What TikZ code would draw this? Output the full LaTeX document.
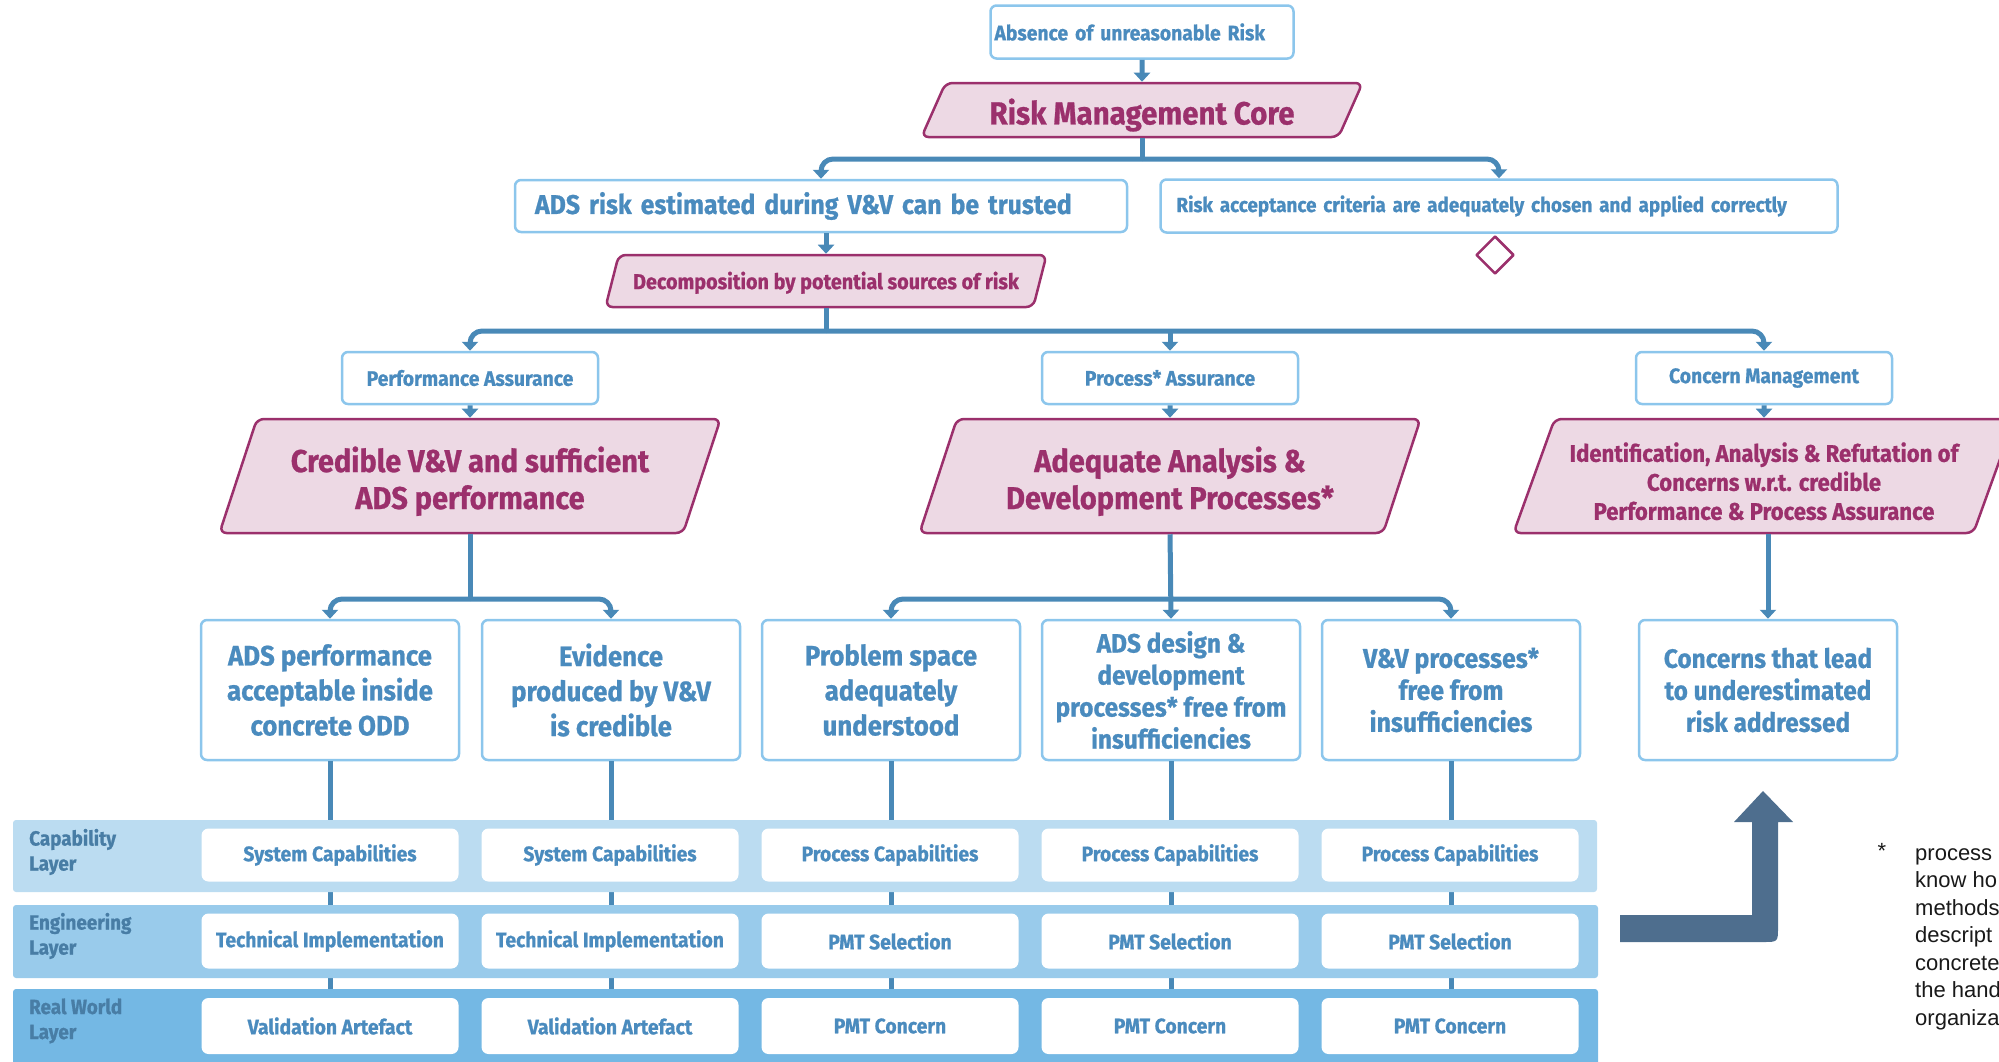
\documentclass[tikz,border=0pt]{standalone}
\usepackage{fontspec}
\setmainfont{Fira Sans}[FakeStretch=0.92, BoldFeatures={FakeBold=0.8}]
\newfontfamily\notefont{Liberation Sans}
\usetikzlibrary{shapes.geometric,arrows.meta}
\definecolor{tblue}{RGB}{74,139,190}
\definecolor{lblue}{RGB}{140,198,236}
\definecolor{cblue}{RGB}{73,137,183}
\definecolor{mag}{RGB}{155,48,108}
\definecolor{magfill}{RGB}{237,217,228}
\definecolor{bandA}{RGB}{187,220,241}
\definecolor{bandB}{RGB}{153,203,235}
\definecolor{bandC}{RGB}{116,184,228}
\definecolor{labtext}{RGB}{72,125,165}
\definecolor{bigarr}{RGB}{78,110,142}
\newcommand\fsz[2]{\fontsize{#1bp}{#2bp}\selectfont\bfseries}
\newcommand\lift[1]{\rule{0pt}{#1bp}}
\begin{document}
\begin{tikzpicture}[x=1bp, y={(0bp,-1bp)}, line join=round,
	goal/.style={draw=lblue, line width=2.5bp, rounded corners=6bp, fill=white, text=tblue, align=center, inner sep=2bp},
	claim/.style={trapezium, trapezium left angle=66, trapezium right angle=114, trapezium stretches body,
		draw=mag, fill=magfill, text=mag, line width=2.5bp, rounded corners=7bp, align=center, inner sep=2bp},
	layerbox/.style={fill=white, rounded corners=7bp, text=tblue, minimum width=257bp, minimum height=53bp, font=\fsz{21}{25}},
	layerlab/.style={anchor=west, align=left, text=labtext, font=\fsz{20.5}{25}, inner sep=0pt},
	link/.style={draw=cblue, line width=5bp},
	arr/.style={link, -{Triangle[width=16bp,length=9bp]}},
	bar/.style={arr, rounded corners=12bp}]
	\useasboundingbox (0,0) rectangle (1999,1061);
	% top of the argument
	\node[goal, minimum height=53bp, inner xsep=4bp, text width=295bp, align=left, font=\fsz{21}{25}] (absence) at (1142,32) {Absence of unreasonable Risk};
	\node[claim, trapezium left angle=63, trapezium right angle=117, minimum width=441bp, minimum height=54bp, font=\fsz{32}{36}] (rmc) at (1142,110) {\lift{36}Risk Management Core};
	\node[goal, minimum height=52bp, inner xsep=20bp, text width=572bp, align=left, font=\fsz{27}{31}] (adsrisk) at (821,206) {ADS risk estimated during V\&V can be trusted};
	\node[goal, minimum height=53bp, inner xsep=16bp, text width=645bp, align=left, font=\fsz{20.5}{24}] (riskacc) at (1499,206) {Risk acceptance criteria are adequately chosen and applied correctly};
	\node[diamond, draw=mag, line width=2.5bp, minimum width=38bp, minimum height=38bp, inner sep=0pt] (undev) at (1495,255) {};
	\node[claim, trapezium left angle=66, trapezium right angle=114, minimum width=441bp, minimum height=52bp, font=\fsz{21.5}{25}] (decomp) at (826,281) {\lift{21}Decomposition by potential sources of risk};
	% assurance branches
	\node[goal, minimum width=256bp, minimum height=52bp, font=\fsz{21}{25}] (perf) at (470,378) {Performance Assurance};
	\node[goal, minimum width=256bp, minimum height=52bp, font=\fsz{21}{25}] (proc) at (1170,378) {Process* Assurance};
	\node[goal, minimum width=256bp, minimum height=52bp, font=\fsz{21}{25}] (concern) at (1764,378) {Concern Management};
	\node[claim, minimum width=501bp, minimum height=114bp, font=\fsz{31.5}{37}] (cred) at (470,476) {\lift{36}Credible V\&V and sufficient\\ADS performance};
	\node[claim, minimum width=501bp, minimum height=114bp, font=\fsz{31.5}{37}] (adeq) at (1170,476) {\lift{36}Adequate Analysis \&\\Development Processes*};
	\node[claim, minimum width=501bp, minimum height=114bp, font=\fsz{24}{29}] (ident) at (1764,476) {\lift{30}Identification, Analysis \& Refutation of\\Concerns w.r.t. credible\\Performance \& Process Assurance};
	% sub goals
	\node[goal, minimum width=258bp, minimum height=140bp, font=\fsz{28}{35}] (g1) at (330,690) {ADS performance\\acceptable inside\\concrete ODD};
	\node[goal, minimum width=258bp, minimum height=140bp, font=\fsz{28}{35}] (g2) at (611,690) {Evidence\\produced by V\&V\\is credible};
	\node[goal, minimum width=258bp, minimum height=140bp, font=\fsz{28}{35}] (g3) at (891,690) {Problem space\\adequately\\understood};
	\node[goal, minimum width=258bp, minimum height=140bp, font=\fsz{26.5}{32}] (g4) at (1171,690) {ADS design \&\\development\\processes* free from\\insufficiencies};
	\node[goal, minimum width=258bp, minimum height=140bp, font=\fsz{27}{32}] (g5) at (1451,690) {V\&V processes*\\free from\\insufficiencies};
	\node[goal, minimum width=258bp, minimum height=140bp, font=\fsz{26.5}{32}] (g6) at (1768,690) {Concerns that lead\\to underestimated\\risk addressed};
	% connectors
	\coordinate (j1) at (rmc.south |- 0,159);
	\coordinate (j2) at (decomp.south |- 0,331);
	\coordinate (j3) at (cred.south |- 0,599);
	\coordinate (j4) at (adeq.south |- 0,599);
	\draw[arr] (absence) -- (rmc);
	\draw[link] (rmc.south) -- (j1);
	\draw[bar] (j1) -| (adsrisk.north);
	\draw[bar] (j1) -| (riskacc.north);
	\draw[arr] (adsrisk.south -| decomp.north) -- (decomp.north);
	\draw[link] (decomp.south) -- (j2);
	\draw[bar] (j2) -| (perf.north);
	\draw[bar] (j2) -| (concern.north);
	\draw[arr] (proc.north |- j2) -- (proc.north);
	\draw[arr] (perf) -- (cred);
	\draw[arr] (proc) -- (adeq);
	\draw[arr] (concern) -- (ident);
	\draw[link] (cred.south) -- (j3);
	\draw[bar] (j3) -| (g1.north);
	\draw[bar] (j3) -| (g2.north);
	\draw[arr] (adeq.south) -- (g4.north);
	\draw[bar] (j4) -| (g3.north);
	\draw[bar] (j4) -| (g5.north);
	\draw[arr] (ident.south -| g6.north) -- (g6.north);
	\foreach \g in {g1,g2,g3,g4,g5}
		\draw[link] (\g.south) -- (\g.south |- 0,1061);
	% layers
	\fill[bandA, rounded corners=3bp] (13,820) rectangle (1597,892);
	\fill[bandB, rounded corners=3bp] (13,905) rectangle (1598,978);
	\fill[bandC, rounded corners=3bp] (13,989) rectangle (1598,1075);
	\node[layerlab] (labA) at (29,852) {Capability\\Layer};
	\node[layerlab] (labB) at (29,936) {Engineering\\Layer};
	\node[layerlab] (labC) at (29,1021) {Real World\\Layer};
	\foreach \x/\n/\a/\b/\c in {330/1/System Capabilities/Technical Implementation/Validation Artefact,
		610/2/System Capabilities/Technical Implementation/Validation Artefact,
		890/3/Process Capabilities/PMT Selection/PMT Concern,
		1170/4/Process Capabilities/PMT Selection/PMT Concern,
		1450/5/Process Capabilities/PMT Selection/PMT Concern}{
		\node[layerbox] (cap\n) at (\x,855) {\a};
		\node[layerbox, minimum height=55bp] (eng\n) at (\x,941) {\b};
		\node[layerbox, minimum height=56bp] (real\n) at (\x,1026) {\c};
	}
	% big arrow
	\fill[bigarr] (1620,915) -- (1752,915) -- (1752,822) -- (1734,822) -- (1763,791) -- (1793,822) -- (1778,822)
		-- (1778,927) .. controls (1778,942) .. (1763,942) -- (1620,942) -- cycle;
	% footnote
	\node[anchor=base, font=\notefont\fontsize{22bp}{27.5bp}\selectfont, text=black!90] (star) at (1882,858) {*};
	\node[anchor=north west, align=left, inner sep=0pt, font=\notefont\fontsize{22bp}{27.5bp}\selectfont, text=black!90] (note) at (1915,848)
		{process\\know ho\\methods\\descript\\concrete\\the hand\\organiza};
\end{tikzpicture}
\end{document}
